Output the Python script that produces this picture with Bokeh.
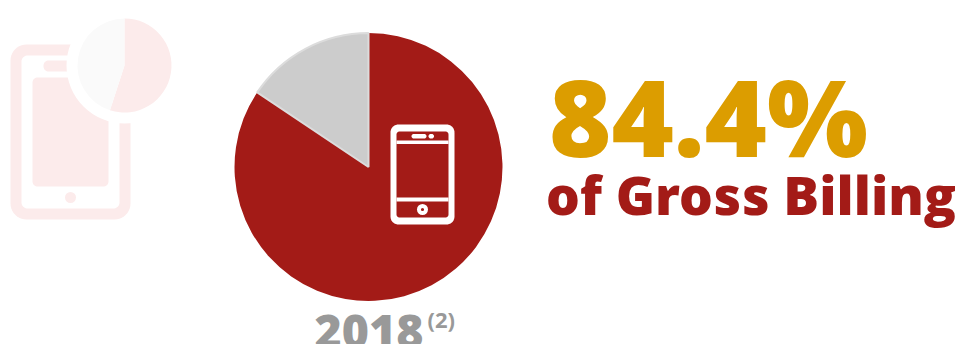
from math import pi, cos, sin
from bokeh.plotting import figure
from bokeh.models import Range1d
from bokeh.core.properties import value
from bokeh.embed import file_html
from bokeh.resources import INLINE

# Gross billing share for the headline year
shares = [84.4, 15.6]
share_colors = ["#a31b17", "#cccccc"]
share_edges = [None, "#dcdcdc"]
headline = "84.4%"
subtitle = "of Gross Billing"
year = "2018"
footnote = "(2)"

# Faded emblem in the top-left corner
emblem_shares = [55.0, 45.0]
emblem_colors = ["#fcebeb", "#fafafa"]
emblem_edges = [None, None]
EMBLEM_TINT = "#fcebeb"

p = figure(width=958, height=344, output_backend="svg", toolbar_location=None,
           x_range=Range1d(0, 958), y_range=Range1d(344, 0),
           min_border=0, outline_line_color=None, background_fill_color="white")
p.axis.visible = False
p.grid.visible = False


def rounded(x0, y0, x1, y1, r, n=10):
    """Outline of a rounded rectangle as two coordinate lists."""
    xs, ys = [], []
    corners = [(x1 - r, y0 + r, -pi / 2), (x1 - r, y1 - r, 0),
               (x0 + r, y1 - r, pi / 2), (x0 + r, y0 + r, pi)]
    for cx, cy, start in corners:
        for i in range(n + 1):
            a = start + (pi / 2) * i / n
            xs.append(cx + r * cos(a))
            ys.append(cy + r * sin(a))
    return xs, ys


def box(x0, y0, x1, y1, r, color):
    xs, ys = rounded(x0, y0, x1, y1, r)
    p.patch(xs, ys, fill_color=color, line_color=None)


def pie(cx, cy, radius, values, colors, edges):
    # Slices run clockwise from twelve o'clock.
    start = pi / 2
    total = sum(values)
    for v, c, e in zip(values, colors, edges):
        end = start - 2 * pi * v / total
        p.wedge(x=[cx], y=[cy], radius=radius, start_angle=start, end_angle=end,
                direction="clock", fill_color=c, line_color=e, line_width=2)
        start = end


# Faded phone emblem
box(10, 44, 130, 219, 16, EMBLEM_TINT)
box(21, 55, 119, 208, 6, "white")
box(43, 60, 78, 71, 5, EMBLEM_TINT)
box(32, 77, 108, 186, 5, EMBLEM_TINT)
p.circle(x=[70], y=[197], radius=5.5, fill_color=EMBLEM_TINT, line_color=None)
p.circle(x=[124], y=[65], radius=58, fill_color="white", line_color=None)
pie(124, 65, 47, emblem_shares, emblem_colors, emblem_edges)

# Main pie
pie(368, 166.5, 134, shares, share_colors, share_edges)

# Phone icon on the pie
box(390, 124, 454, 224, 8, "white")
box(396, 131, 448, 217, 3, "#a31b17")
p.quad(left=[396], right=[448], top=[140], bottom=[143.5], fill_color="white", line_color=None)
p.quad(left=[396], right=[448], top=[197], bottom=[201], fill_color="white", line_color=None)
box(411, 133.5, 426, 138, 2.2, "white")
box(428, 133.5, 433.5, 138, 2.2, "white")
p.circle(x=[422], y=[209], radius=5.5, fill_color="white", line_color=None)
p.circle(x=[422], y=[209], radius=1.6, fill_color="#a31b17", line_color=None)

# Texts
heavy = value("Open Sans ExtraBold")
p.text(x=[548.5], y=[114.5], text=[headline], text_font=heavy, text_font_size="106.5px",
       text_font_style="normal", text_color="#dc9d00", text_baseline="alphabetic")
p.text(x=[545.5], y=[194], text=[subtitle], text_font=heavy, text_font_size="53.2px",
       text_font_style="normal", text_color="#a31b17", text_baseline="alphabetic")
p.text(x=[314], y=[331], text=[year], text_font=heavy, text_font_size="46.5px",
       text_font_style="normal", text_color="#999999", text_baseline="alphabetic")
p.text(x=[427], y=[318.5], text=[footnote], text_font=value("Open Sans"), text_font_size="22px",
       text_font_style="bold", text_color="#999999", text_baseline="alphabetic")

open("out.html", "w").write(file_html(p, INLINE))
